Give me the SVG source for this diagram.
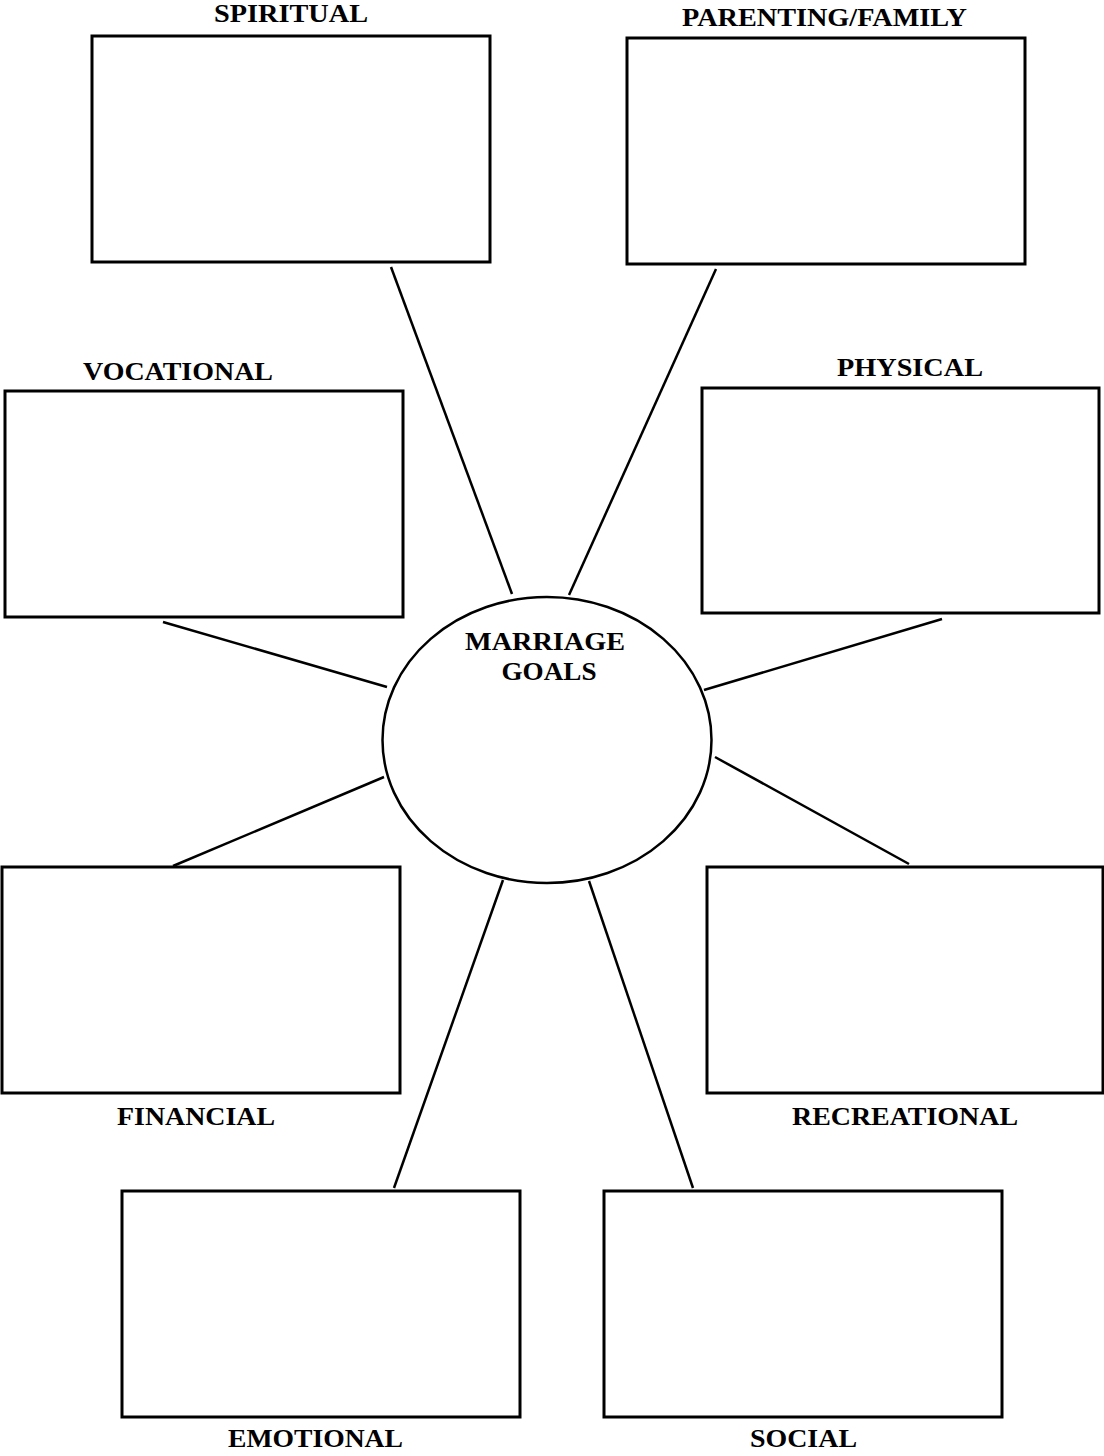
<svg xmlns="http://www.w3.org/2000/svg" width="1104" height="1456" viewBox="0 0 1104 1456">
<style>
.box{fill:#fff;stroke:#000;stroke-width:3}
.lbl{font-family:"Liberation Serif","Times New Roman",serif;font-weight:bold;font-size:25px;fill:#000}
.conn line{stroke:#000;stroke-width:2.5}
</style>
<rect width="1104" height="1456" fill="#fff"/>
<g class="conn">
<line x1="391" y1="267" x2="512" y2="594"/>
<line x1="716" y1="269" x2="569" y2="595"/>
<line x1="163" y1="622" x2="387" y2="687"/>
<line x1="942" y1="619" x2="704" y2="690"/>
<line x1="173" y1="866" x2="384" y2="777"/>
<line x1="909" y1="864" x2="715" y2="757"/>
<line x1="394" y1="1188" x2="503" y2="880"/>
<line x1="693" y1="1188" x2="589" y2="881"/>
</g>
<g id="center">
<ellipse cx="547" cy="740" rx="164.5" ry="143" fill="#fff" stroke="#000" stroke-width="2.5"/>
<text class="lbl" x="545" y="650" text-anchor="middle" textLength="160" lengthAdjust="spacingAndGlyphs">MARRIAGE</text>
<text class="lbl" x="549" y="680" text-anchor="middle" textLength="95" lengthAdjust="spacingAndGlyphs">GOALS</text>
</g>
<g id="spiritual">
<rect class="box" x="92" y="36" width="398" height="226"/>
<text class="lbl" x="214" y="22" textLength="154" lengthAdjust="spacingAndGlyphs">SPIRITUAL</text>
</g>
<g id="parenting">
<rect class="box" x="627" y="38" width="398" height="226"/>
<text class="lbl" x="682" y="26" textLength="285" lengthAdjust="spacingAndGlyphs">PARENTING/FAMILY</text>
</g>
<g id="vocational">
<rect class="box" x="5" y="391" width="398" height="226"/>
<text class="lbl" x="83" y="380" textLength="190" lengthAdjust="spacingAndGlyphs">VOCATIONAL</text>
</g>
<g id="physical">
<rect class="box" x="702" y="388" width="397" height="225"/>
<text class="lbl" x="837" y="376" textLength="146" lengthAdjust="spacingAndGlyphs">PHYSICAL</text>
</g>
<g id="financial">
<rect class="box" x="2" y="867" width="398" height="226"/>
<text class="lbl" x="117" y="1125" textLength="158" lengthAdjust="spacingAndGlyphs">FINANCIAL</text>
</g>
<g id="recreational">
<rect class="box" x="707" y="867" width="396" height="226"/>
<text class="lbl" x="792" y="1125" textLength="226" lengthAdjust="spacingAndGlyphs">RECREATIONAL</text>
</g>
<g id="emotional">
<rect class="box" x="122" y="1191" width="398" height="226"/>
<text class="lbl" x="228" y="1447" textLength="175" lengthAdjust="spacingAndGlyphs">EMOTIONAL</text>
</g>
<g id="social">
<rect class="box" x="604" y="1191" width="398" height="226"/>
<text class="lbl" x="750" y="1447" textLength="107" lengthAdjust="spacingAndGlyphs">SOCIAL</text>
</g>
</svg>
